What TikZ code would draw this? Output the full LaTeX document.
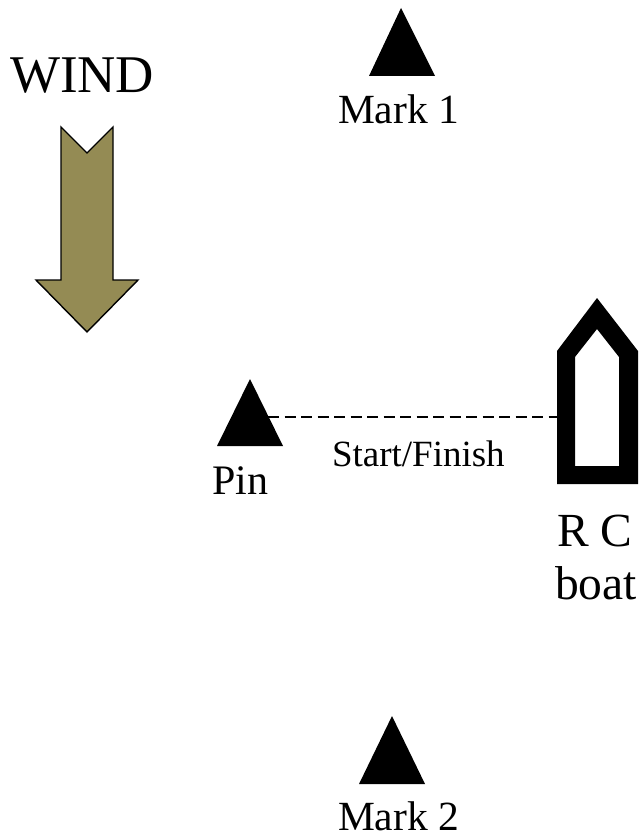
\documentclass[tikz,border=0pt]{standalone}
\usepackage{fontspec}
\setmainfont{Liberation Serif}
\tikzset{
  lbl/.style={anchor=base west,inner sep=0pt,outer sep=0pt,text=black},
  markshape/.style={fill=black,draw=none},
  windarrow/.style={fill=windcol,draw=black,line width=1.4pt,line join=miter},
  startline/.style={draw=black,line width=1.3pt,dash pattern=on 11pt off 5.5pt}
}
\definecolor{windcol}{HTML}{948B54}
\begin{document}
\begin{tikzpicture}[x=1pt,y=-1pt]
\useasboundingbox (0,0) rectangle (641,834);
% wind
\node[lbl,font=\fontsize{53}{53}\selectfont] (wind) at (10,93) {WIND};
\draw[windarrow] (61,127) -- (87,153) -- (113,127) -- (113,280) -- (138,280) -- (87,332) -- (36,280) -- (61,280) -- cycle;
% marks
\fill[markshape] (401,8) -- (435,76) -- (369,76) -- cycle;
\node[lbl,font=\fontsize{41.5}{41.5}\selectfont] (mark1) at (338,124) {Mark 1};
\fill[markshape] (392,716) -- (425,784) -- (359,784) -- cycle;
\node[lbl,font=\fontsize{41.5}{41.5}\selectfont] (mark2) at (338,830) {Mark 2};
\fill[markshape] (250,379) -- (283,446) -- (217,446) -- cycle;
\node[lbl,font=\fontsize{42}{42}\selectfont] (pin) at (212,494) {Pin};
% boat
\fill[black,even odd rule] (597,298) -- (638,351) -- (638,484) -- (557,484) -- (557,351) -- cycle
  (597,329) -- (619,357) -- (619,466) -- (575,466) -- (575,357) -- cycle;
\node[lbl,font=\fontsize{47.5}{47.5}\selectfont] (rc) at (557,546) {R C};
\node[lbl,font=\fontsize{47.5}{47.5}\selectfont] (boat) at (555,599) {boat};
% line
\coordinate (pinside) at (268,417);
\coordinate (boatside) at (557,417);
\draw[startline] (pinside) -- (boatside);
\node[lbl,font=\fontsize{37}{37}\selectfont] (sf) at (332,466) {Start/Finish};
\end{tikzpicture}
\end{document}
